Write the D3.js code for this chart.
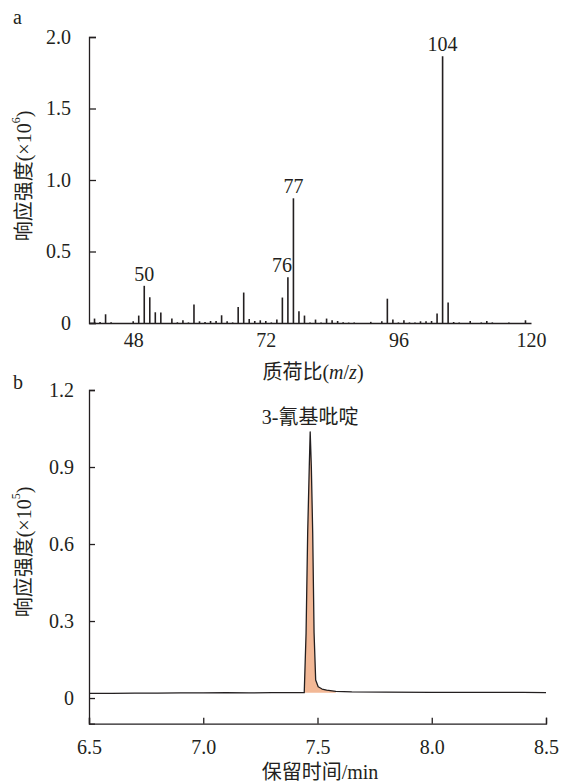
<!DOCTYPE html>
<html>
<head>
<meta charset="utf-8">
<script src="https://cdn.jsdelivr.net/npm/d3@7"></script>
<style>
  body { margin: 0; background: #fff; }
  text { font-family: "Liberation Serif", "Times New Roman", "DejaVu Serif", serif, "Noto Sans CJK SC"; fill: #231f20; }
</style>
</head>
<body>
<svg id="chart"></svg>
<script>
// panel a: mass spectrum (m/z vs intensity, x10^6)
let mzValues = [41, 42, 43, 44, 48, 49, 50, 51, 52, 53, 55, 56, 57, 58, 59, 60,
  61, 62, 63, 64, 65, 66, 67, 68, 69, 70, 71, 72, 73, 74, 75, 76, 77, 78, 79, 80,
  81, 82, 83, 84, 85, 86, 87, 88, 91, 93, 94, 95, 96, 97, 98, 99, 100, 101, 102,
  103, 104, 105, 106, 107, 109, 111, 112, 113, 116, 119]
let mzIntensity = [0.031, 0.007, 0.061, 0.005, 0.012, 0.052, 0.26, 0.18, 0.075, 0.073,
  0.031, 0.005, 0.019, 0.004, 0.13, 0.012, 0.007, 0.014, 0.014, 0.054, 0.012, 0.004,
  0.112, 0.213, 0.028, 0.014, 0.019, 0.014, 0.004, 0.024, 0.178, 0.32, 0.872, 0.082,
  0.052, 0.004, 0.024, 0.004, 0.031, 0.019, 0.014, 0.005, 0.003, 0.003, 0.008, 0.012,
  0.17, 0.024, 0.004, 0.019, 0.004, 0.004, 0.012, 0.012, 0.014, 0.066, 1.866, 0.143,
  0.007, 0.004, 0.014, 0.004, 0.014, 0.004, 0.004, 0.019]
let mzLabelled = [50, 76, 77, 104]
let xTicksA = [48, 72, 96, 120]
let yTicksA = [0, 0.5, 1.0, 1.5, 2.0]
let yTickLabelsA = ['0', '0.5', '1.0', '1.5', '2.0']

// panel b: chromatogram (time in min vs intensity, x10^5)
let chromTime = [6.5, 6.6, 6.7, 6.8, 6.9, 7.0, 7.1, 7.2, 7.3, 7.4, 7.442, 7.450,
  7.457, 7.464, 7.468, 7.473, 7.479, 7.485, 7.492, 7.503, 7.52, 7.54, 7.58, 7.65,
  7.8, 8.0, 8.2, 8.4, 8.5]
let chromSignal = [0.018, 0.018, 0.019, 0.019, 0.020, 0.020, 0.021, 0.020, 0.021,
  0.021, 0.021, 0.253, 0.643, 0.901, 1.037, 0.901, 0.643, 0.253, 0.070, 0.044, 0.035,
  0.031, 0.026, 0.024, 0.023, 0.022, 0.022, 0.022, 0.021]
let peakName = '3-氰基吡啶'
let peakStart = 7.442
let peakEnd = 7.58
let xTicksB = [6.5, 7.0, 7.5, 8.0, 8.5]
let yTicksB = [0, 0.3, 0.6, 0.9, 1.2]
let yTickLabelsB = ['0', '0.3', '0.6', '0.9', '1.2']

let ink = '#231f20'
let fontSize = 20

let svg = d3.select('#chart').attr('width', 562).attr('height', 784)

// ---------- panel a ----------
let xA = d3.scaleLinear().domain([40, 120]).range([89, 531])
let yA = d3.scaleLinear().domain([0, 2]).range([323, 37])

let gA = svg.append('g')

gA.selectAll('line.bar')
  .data(mzValues)
  .join('line')
  .attr('class', 'bar')
  .attr('x1', d => xA(d))
  .attr('x2', d => xA(d))
  .attr('y1', yA(0))
  .attr('y2', (d, i) => yA(mzIntensity[i]))
  .attr('stroke', ink)
  .attr('stroke-width', 1.6)

// label of 76 sits a bit left so it clears the 77 bar
gA.selectAll('text.peak')
  .data(mzLabelled)
  .join('text')
  .attr('class', 'peak')
  .attr('x', d => xA(d) + (d == 76 ? -6 : 0))
  .attr('y', d => yA(mzIntensity[mzValues.indexOf(d)]) - 5)
  .attr('text-anchor', 'middle')
  .attr('font-size', fontSize)
  .text(d => d)

// y axis, ticks inward
let yAxisA = d3.axisLeft(yA).tickValues(yTicksA).tickSize(-7).tickPadding(18)
  .tickFormat((d, i) => yTickLabelsA[i])
gA.append('g').attr('transform', 'translate(89,0)').call(yAxisA)

// x axis, no tick marks
let xAxisA = d3.axisBottom(xA).tickValues(xTicksA).tickSize(0).tickPadding(10)
gA.append('g').attr('transform', 'translate(0,' + yA(0) + ')').call(xAxisA)

// ---------- panel b ----------
let xB = d3.scaleLinear().domain([6.5, 8.5]).range([89, 546])
let yB = d3.scaleLinear().domain([-0.1, 1.2]).range([723.7, 390])

let gB = svg.append('g')
let chrom = chromTime.map((t, i) => ({ t: t, v: chromSignal[i] }))

let area = d3.area()
  .x(d => xB(d.t))
  .y0(yB(chromSignal[chromTime.indexOf(peakStart)]))
  .y1(d => yB(d.v))
gB.append('path')
  .datum(chrom.filter(d => d.t >= peakStart && d.t <= peakEnd))
  .attr('d', area)
  .attr('fill', '#f2b896')

let line = d3.line().x(d => xB(d.t)).y(d => yB(d.v))
gB.append('path')
  .datum(chrom)
  .attr('d', line)
  .attr('fill', 'none')
  .attr('stroke', ink)
  .attr('stroke-width', 1.3)
  .attr('stroke-linejoin', 'round')

let apex = chrom[d3.maxIndex(chrom, d => d.v)]
gB.append('text')
  .attr('x', xB(apex.t))
  .attr('y', yB(apex.v) - 8)
  .attr('text-anchor', 'middle')
  .attr('font-size', fontSize)
  .text(peakName)

let yAxisB = d3.axisLeft(yB).tickValues(yTicksB).tickSize(-6).tickPadding(15)
  .tickFormat((d, i) => yTickLabelsB[i])
gB.append('g').attr('transform', 'translate(89,0)').call(yAxisB)

let xAxisB = d3.axisBottom(xB).tickValues(xTicksB).tickSize(-6).tickPadding(16)
  .tickFormat(d3.format('.1f'))
gB.append('g').attr('transform', 'translate(0,' + yB(-0.1) + ')').call(xAxisB)

// axis styling
svg.selectAll('.domain').attr('stroke', ink).attr('stroke-width', 1.3)
svg.selectAll('.tick line').attr('stroke', ink).attr('stroke-width', 1.3)
svg.selectAll('.tick text')
  .attr('fill', ink)
  .attr('font-size', fontSize)

// ---------- titles ----------
function yTitle(cx, cy, power) {
  let t = svg.append('text')
    .attr('transform', `translate(${cx},${cy}) rotate(-90)`)
    .attr('text-anchor', 'middle')
    .attr('dominant-baseline', 'central')
    .attr('font-size', fontSize)
  t.append('tspan').text('响应强度(×10')
  t.append('tspan').attr('font-size', 12).attr('dy', -8).text(power)
  t.append('tspan').attr('dy', 8).text(')')
}
yTitle(24, 176, '6')
yTitle(24, 552, '5')

let xtA = svg.append('text')
  .attr('x', 313).attr('y', 379)
  .attr('text-anchor', 'middle')
  .attr('font-size', fontSize)
xtA.append('tspan').text('质荷比(')
xtA.append('tspan').attr('font-style', 'italic').text('m')
xtA.append('tspan').text('/')
xtA.append('tspan').attr('font-style', 'italic').text('z')
xtA.append('tspan').text(')')

svg.append('text')
  .attr('x', 320).attr('y', 779)
  .attr('text-anchor', 'middle')
  .attr('font-size', fontSize)
  .text('保留时间/min')

svg.append('text').attr('x', 13).attr('y', 24).attr('font-size', fontSize).text('a')
svg.append('text').attr('x', 13).attr('y', 389).attr('font-size', fontSize).text('b')
</script>
</body>
</html>
